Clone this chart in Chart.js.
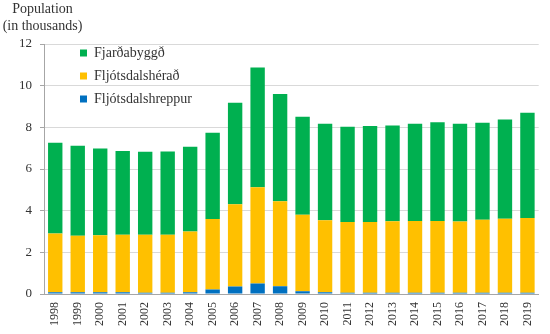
<!DOCTYPE html>
<html>
<head>
<meta charset="utf-8">
<script src="https://cdn.jsdelivr.net/npm/chart.js@4"></script>
<style>
  html, body { margin: 0; padding: 0; background: #ffffff; }
  #wrap { width: 550px; height: 334px; position: relative; }
</style>
</head>
<body>
<div id="wrap"><canvas id="c"></canvas></div>
<script>
const years = ['1998','1999','2000','2001','2002','2003','2004','2005','2006','2007','2008','2009','2010','2011','2012','2013','2014','2015','2016','2017','2018','2019'];
const fjardabyggd = [4.36,4.32,4.17,4.02,3.98,3.99,4.07,4.14,4.87,5.74,5.15,4.71,4.63,4.57,4.60,4.60,4.66,4.73,4.69,4.66,4.77,5.05];
const fljotsdalsherad = [2.82,2.72,2.74,2.77,2.79,2.79,2.92,3.38,3.95,4.62,4.08,3.67,3.46,3.40,3.40,3.43,3.45,3.45,3.42,3.50,3.55,3.59];
const fljotsdalshreppur = [0.08,0.08,0.08,0.08,0.06,0.06,0.08,0.22,0.36,0.51,0.37,0.13,0.08,0.06,0.06,0.06,0.06,0.06,0.06,0.06,0.06,0.06];
const yTicks = [0,2,4,6,8,10,12];
const titleLines = ['Population', '(in thousands)'];

const FONT = '"Liberation Serif", "DejaVu Serif", serif';
const TXT = '#333333';

const headerPlugin = {
  id: 'header',
  afterDraw(chart) {
    const ctx = chart.ctx;
    ctx.save();
    ctx.font = '14px ' + FONT;
    ctx.fillStyle = TXT;
    ctx.textAlign = 'center';
    ctx.textBaseline = 'middle';
    ctx.fillText(titleLines[0], 42.5, 9);
    ctx.fillText(titleLines[1], 42.5, 26);
    ctx.restore();
  }
};

const legendShift = {
  id: 'legendShift',
  afterLayout(chart) {
    const lg = chart.legend;
    const ca = chart.chartArea;
    if (!lg || !ca) return;
    const w = lg.width, h = lg.height;
    lg.left = ca.left + 27;
    lg.top = ca.top - 7;
    lg.right = lg.left + w;
    lg.bottom = lg.top + h;
  }
};

new Chart(document.getElementById('c'), {
  type: 'bar',
  data: {
    labels: years,
    datasets: [
      { label: 'Fljótsdalshreppur', data: fljotsdalshreppur, backgroundColor: '#0070c0' },
      { label: 'Fljótsdalshérað', data: fljotsdalsherad, backgroundColor: '#ffc000' },
      { label: 'Fjarðabyggð', data: fjardabyggd, backgroundColor: '#00b050' }
    ]
  },
  options: {
    responsive: true,
    maintainAspectRatio: false,
    animation: false,
    layout: { padding: { top: 44, left: 11, right: 7, bottom: 0 } },
    datasets: { bar: { barPercentage: 0.64, categoryPercentage: 1.0 } },
    plugins: {
      title: { display: false },
      tooltip: { enabled: false },
      legend: {
        position: 'chartArea',
        align: 'start',
        reverse: true,
        labels: {
          boxWidth: 7,
          boxHeight: 7,
          padding: 9,
          color: TXT,
          font: { family: FONT, size: 14 }
        }
      }
    },
    scales: {
      x: {
        stacked: true,
        grid: { display: false, drawTicks: false },
        border: { display: true, color: '#a6a6a6', width: 1 },
        ticks: {
          color: TXT,
          font: { family: FONT, size: 12 },
          minRotation: 90,
          maxRotation: 90,
          autoSkip: false,
          padding: 8
        }
      },
      y: {
        stacked: true,
        min: 0,
        max: 12,
        afterBuildTicks(scale) { scale.ticks = yTicks.map(v => ({ value: v })); },
        grid: { color: '#d9d9d9', lineWidth: 1, drawTicks: true, tickLength: 4, tickColor: '#a6a6a6' },
        border: { display: true, color: '#a6a6a6', width: 1 },
        ticks: {
          color: TXT,
          font: { family: FONT, size: 13 },
          padding: 8
        }
      }
    }
  },
  plugins: [headerPlugin, legendShift]
});
</script>
</body>
</html>
